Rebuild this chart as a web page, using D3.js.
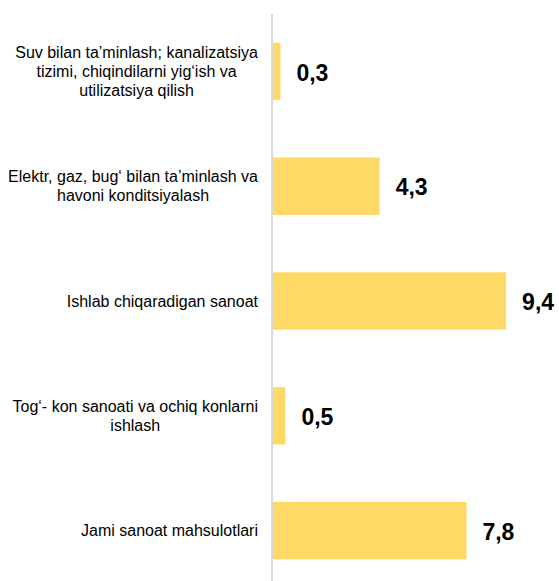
<!DOCTYPE html>
<html>
<head>
<meta charset="utf-8">
<script src="https://cdn.jsdelivr.net/npm/d3@7/dist/d3.min.js"></script>
<style>
  body { margin: 0; background: #fff; }
  svg { display: block; font-family: "Liberation Sans", Arial, sans-serif; }
</style>
</head>
<body>
<svg></svg>
<script>
var categories = [
    'Suv bilan ta\u2019minlash; kanalizatsiya tizimi, chiqindilarni yig\u2018ish va utilizatsiya qilish',
    'Elektr, gaz, bug\u2018 bilan ta\u2019minlash va havoni konditsiyalash',
    'Ishlab chiqaradigan sanoat',
    'Tog\u2018- kon sanoati va ochiq konlarni ishlash',
    'Jami sanoat mahsulotlari'
];
var values = [0.3, 4.3, 9.4, 0.5, 7.8];

const iWidth = 559, iHeight = 581;
const axisX = 272;

var canvas = d3.select('svg')
               .attr('width', iWidth)
               .attr('height', iHeight);

const xScale = d3.scaleLinear()
                 .domain([0, 10])
                 .range([axisX + 1, axisX + 1 + 248]);

const yScale = d3.scaleBand()
                 .domain(categories)
                 .range([14, 588])
                 .paddingInner(0.5)
                 .paddingOuter(0.25);

const fmt = d3.formatLocale({decimal: ',', thousands: ' ', grouping: [3], currency: ['', '']}).format('.1f');

// bars
canvas.append('g').selectAll('rect')
      .data(values)
      .enter()
        .append('rect')
        .attr('x', xScale(0))
        .attr('y', (d, i) => yScale(categories[i]))
        .attr('width', d => xScale(d) - xScale(0))
        .attr('height', yScale.bandwidth())
        .attr('fill', '#FFD966');

// vertical axis line
canvas.append('line')
      .attr('x1', axisX).attr('x2', axisX)
      .attr('y1', 14).attr('y2', iHeight)
      .attr('stroke', '#d9d9d9')
      .attr('stroke-width', 2);

// value labels
const vfs = 23;
canvas.append('g').selectAll('text')
      .data(values)
      .enter()
        .append('text')
        .attr('x', d => xScale(d) + 16)
        .attr('y', (d, i) => yScale(categories[i]) + yScale.bandwidth() / 2 + vfs * 0.36 + 1)
        .attr('font-size', vfs)
        .attr('font-weight', 'bold')
        .attr('fill', '#000')
        .text(d => fmt(d));

// category labels, wrapped, block right-aligned, lines centred
const cfs = 16, lineH = 19, maxW = 252, rightEdge = 258;
var labelGroup = canvas.append('g');
categories.forEach((cat, i) => {
    var t = labelGroup.append('text')
        .attr('font-size', cfs)
        .attr('fill', '#000')
        .attr('text-anchor', 'middle');
    var words = cat.split(' ');
    var lines = [], line = [];
    var probe = t.append('tspan');
    words.forEach(w => {
        line.push(w);
        probe.text(line.join(' '));
        if (probe.node().getComputedTextLength() > maxW && line.length > 1) {
            line.pop();
            lines.push(line.join(' '));
            line = [w];
        }
    });
    lines.push(line.join(' '));
    var widest = 0;
    lines.forEach(l => {
        probe.text(l);
        widest = Math.max(widest, probe.node().getComputedTextLength());
    });
    probe.remove();
    var cx = rightEdge - widest / 2;
    var cy = yScale(cat) + yScale.bandwidth() / 2;
    var firstBase = cy - (lines.length - 1) * lineH / 2 + cfs * 0.35;
    lines.forEach((l, j) => {
        t.append('tspan')
         .attr('x', cx)
         .attr('y', firstBase + j * lineH)
         .text(l);
    });
});
</script>
</body>
</html>
